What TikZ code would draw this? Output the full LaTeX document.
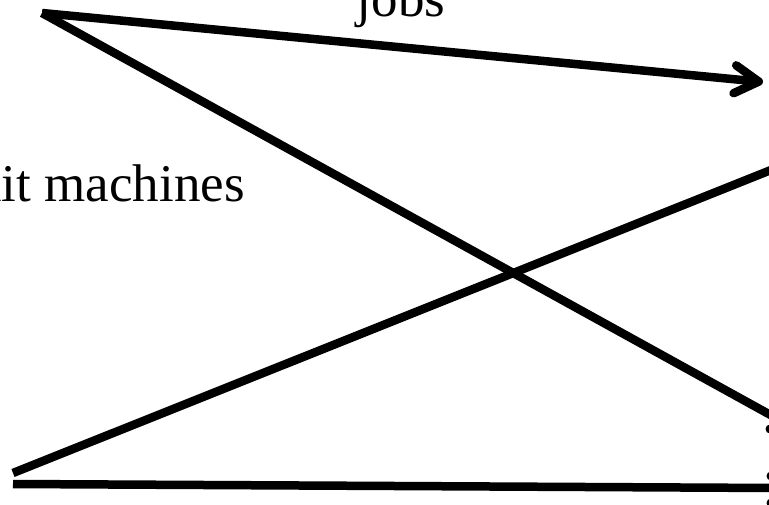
\documentclass[tikz,border=0pt]{standalone}
\usepackage{fontspec}
\setmainfont{Liberation Serif}
\usetikzlibrary{arrows.meta}
\begin{document}
\begin{tikzpicture}[x=1pt,y=-1pt,
  conn/.style={line width=8.5pt,line cap=butt},
  lbl/.style={font=\fontsize{53}{62}\selectfont,inner sep=0pt},
  dotmark/.style={circle,fill=black,inner sep=0pt,minimum size=9pt}]
\useasboundingbox (0,0) rectangle (769,505);
\coordinate (apex) at (42,13);
\coordinate (t1) at (763,82);
\coordinate (e2) at (776,418);
\coordinate (s3) at (13,473);
\coordinate (e3) at (776,168);
\coordinate (s4) at (13,484);
\coordinate (e4) at (776,488);
\draw[conn,-{Straight Barb[length=24pt,width=28pt,line cap=round,line join=round]}] (apex) -- (t1);
\draw[conn] (apex) -- (e2);
\draw[conn] (s3) -- (e3);
\draw[conn] (s4) -- (e4);
\node[lbl,anchor=base] (jobs) at (401,17) {jobs};
\node[lbl,anchor=base east] (mach) at (245,202) {unit machines};
\node[dotmark] (d1) at (770,429) {};
\node[dotmark] (d2) at (771,476) {};
\node[dotmark] (d3) at (771,503) {};
\end{tikzpicture}
\end{document}
